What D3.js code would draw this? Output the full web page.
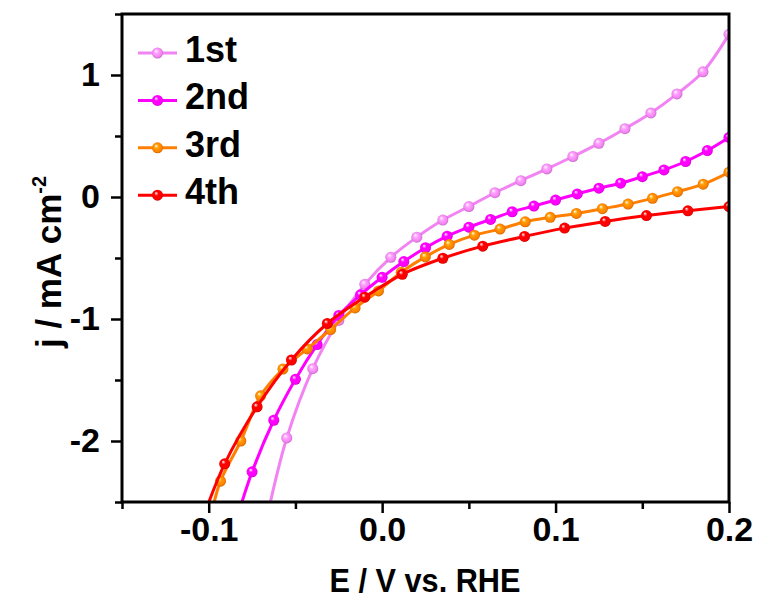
<!DOCTYPE html>
<html>
<head>
<meta charset="utf-8">
<script src="https://cdn.jsdelivr.net/npm/d3@7"></script>
<style>
  html, body { margin: 0; padding: 0; background: #ffffff; }
  svg { display: block; }
  text { font-family: "Liberation Sans", Arial, sans-serif; font-weight: bold; fill: #000; }
</style>
</head>
<body>
<svg id="chart" width="760" height="601"></svg>
<script>
// ---- data ----
const seriesNames = ["1st", "2nd", "3rd", "4th"];
const seriesColors = ["#f283f2", "#ff00ff", "#ff8000", "#ff0000"];

const x1st = [-0.066, -0.055, -0.040, -0.025, -0.010, 0.005, 0.020, 0.035, 0.050, 0.065, 0.080, 0.095, 0.110, 0.125, 0.140, 0.155, 0.170, 0.185, 0.200];
const y1st = [-2.60, -1.975, -1.407, -1.012, -0.716, -0.494, -0.329, -0.189, -0.078, 0.035, 0.134, 0.230, 0.332, 0.440, 0.560, 0.689, 0.845, 1.026, 1.333];

const x2nd = [-0.0830, -0.0750, -0.0625, -0.0500, -0.0375, -0.0250, -0.0125, 0.0000, 0.0125, 0.0250, 0.0375, 0.0500, 0.0625, 0.0750, 0.0875, 0.1000, 0.1125, 0.1250, 0.1375, 0.1500, 0.1625, 0.1750, 0.1875, 0.2000];
const y2nd = [-2.60, -2.253, -1.830, -1.494, -1.210, -0.971, -0.802, -0.658, -0.529, -0.416, -0.321, -0.247, -0.184, -0.121, -0.074, -0.025, 0.025, 0.072, 0.113, 0.167, 0.222, 0.291, 0.381, 0.488];

const x3rd = [-0.0985, -0.0932, -0.0815, -0.0701, -0.0572, -0.0432, -0.0297, -0.0156, -0.0021, 0.0110, 0.0249, 0.0387, 0.0532, 0.0680, 0.0825, 0.0969, 0.1120, 0.1270, 0.1418, 0.1559, 0.1703, 0.1851, 0.2000];
const y3rd = [-2.60, -2.329, -2.000, -1.630, -1.410, -1.245, -1.086, -0.909, -0.770, -0.617, -0.491, -0.389, -0.313, -0.263, -0.203, -0.167, -0.135, -0.096, -0.058, -0.011, 0.044, 0.105, 0.203];

const x4th = [-0.1025, -0.0908, -0.0721, -0.0523, -0.0316, -0.0100, 0.0116, 0.0350, 0.0580, 0.0821, 0.1052, 0.1286, 0.1524, 0.1763, 0.2000];
const y4th = [-2.60, -2.187, -1.720, -1.336, -1.037, -0.821, -0.634, -0.502, -0.403, -0.323, -0.255, -0.200, -0.152, -0.113, -0.078];

const xTickValues = [-0.15, -0.10, -0.05, 0.00, 0.05, 0.10, 0.15, 0.20];
const xTickLabels = ["", "-0.1", "", "0.0", "", "0.1", "", "0.2"];
const yTickValues = [-2.5, -2.0, -1.5, -1.0, -0.5, 0.0, 0.5, 1.0, 1.5];
const yTickLabels = ["", "-2", "", "-1", "", "0", "", "1", ""];

const xTitle = "E / V vs. RHE";
const yTitleMain = "j / mA cm";
const yTitleSup = "-2";

// ---- layout ----
const svg = d3.select("#chart");
const pLeft = 122, pRight = 729, pTop = 14, pBottom = 502;

const x = d3.scaleLinear().domain([-0.15, 0.2]).range([pLeft, pRight]);
const y = d3.scaleLinear().domain([-2.5, 1.5]).range([pBottom, pTop]);

const series = [
  { name: seriesNames[0], color: seriesColors[0], xs: x1st, ys: y1st },
  { name: seriesNames[1], color: seriesColors[1], xs: x2nd, ys: y2nd },
  { name: seriesNames[2], color: seriesColors[2], xs: x3rd, ys: y3rd },
  { name: seriesNames[3], color: seriesColors[3], xs: x4th, ys: y4th }
];

const defs = svg.append("defs");
defs.append("clipPath").attr("id", "plotclip")
  .append("rect").attr("x", pLeft).attr("y", pTop).attr("width", pRight - pLeft).attr("height", pBottom - pTop);

series.forEach((s, i) => {
  const c = d3.color(s.color);
  const g = defs.append("radialGradient").attr("id", "ball" + i)
    .attr("cx", "50%").attr("cy", "50%").attr("r", "55%")
    .attr("fx", "35%").attr("fy", "30%");
  g.append("stop").attr("offset", "0%").attr("stop-color", "#ffffff");
  g.append("stop").attr("offset", "35%").attr("stop-color", c.brighter(0.6).formatHex());
  g.append("stop").attr("offset", "75%").attr("stop-color", s.color);
  g.append("stop").attr("offset", "100%").attr("stop-color", c.darker(0.8).formatHex());
});

// ---- series ----
const plot = svg.append("g").attr("clip-path", "url(#plotclip)");
const line = d3.line().x(d => x(d[0])).y(d => y(d[1])).curve(d3.curveCatmullRom.alpha(0.5));

series.forEach((s, i) => {
  const pts = s.xs.map((v, k) => [v, s.ys[k]]);
  plot.append("path").datum(pts)
    .attr("d", line)
    .attr("fill", "none")
    .attr("stroke", s.color)
    .attr("stroke-width", 3);
  plot.selectAll(null).data(pts.filter(p => p[1] >= -2.5))
    .enter().append("circle")
    .attr("cx", d => x(d[0]))
    .attr("cy", d => y(d[1]))
    .attr("r", 5.5)
    .attr("fill", "url(#ball" + i + ")");
});

// ---- frame ----
svg.append("rect").attr("x", pLeft).attr("y", pTop).attr("width", pRight - pLeft).attr("height", pBottom - pTop)
  .attr("fill", "none").attr("stroke", "#000").attr("stroke-width", 3);

// ---- axes ----
const xMajor = xTickValues.filter((v, k) => xTickLabels[k] !== "");
const xMinor = xTickValues.filter((v, k) => xTickLabels[k] === "");
const yMajor = yTickValues.filter((v, k) => yTickLabels[k] !== "");
const yMinor = yTickValues.filter((v, k) => yTickLabels[k] === "");

function styleAxis(g) {
  g.select(".domain").remove();
  g.selectAll(".tick line").attr("stroke", "#000").attr("stroke-width", 2.5);
  g.selectAll(".tick text").style("font-size", "34px").attr("fill", "#000");
}

svg.append("g").attr("transform", `translate(0,${pBottom})`)
  .call(d3.axisBottom(x).tickValues(xMinor).tickSize(7).tickFormat(""))
  .call(styleAxis);
svg.append("g").attr("transform", `translate(0,${pBottom})`)
  .call(d3.axisBottom(x).tickValues(xMajor).tickSize(11).tickPadding(4)
    .tickFormat(v => xTickLabels[xTickValues.indexOf(v)]))
  .call(styleAxis);

svg.append("g").attr("transform", `translate(${pLeft},0)`)
  .call(d3.axisLeft(y).tickValues(yMinor).tickSize(7).tickFormat(""))
  .call(styleAxis);
svg.append("g").attr("transform", `translate(${pLeft},0)`)
  .call(d3.axisLeft(y).tickValues(yMajor).tickSize(11).tickPadding(11)
    .tickFormat(v => yTickLabels[yTickValues.indexOf(v)]))
  .call(styleAxis);

// ---- titles ----
svg.append("text").attr("transform", "translate(425,592) scale(0.93,1)").attr("text-anchor", "middle")
  .style("font-size", "33px").text(xTitle);

const yt = svg.append("text").attr("transform", "translate(61,262) rotate(-90)")
  .attr("text-anchor", "middle").style("font-size", "35px");
yt.append("tspan").text(yTitleMain);
yt.append("tspan").attr("dy", -15).style("font-size", "20px").text(yTitleSup);

// ---- legend ----
const leg = svg.append("g");
series.forEach((s, i) => {
  const ly = 53 + i * 47.4;
  leg.append("line").attr("x1", 138).attr("x2", 177).attr("y1", ly).attr("y2", ly)
    .attr("stroke", s.color).attr("stroke-width", 3);
  leg.append("circle").attr("cx", 157.5).attr("cy", ly).attr("r", 5.5).attr("fill", "url(#ball" + i + ")");
  leg.append("text").attr("x", 185).attr("y", ly + 9).style("font-size", "36px").text(s.name);
});
</script>
</body>
</html>
